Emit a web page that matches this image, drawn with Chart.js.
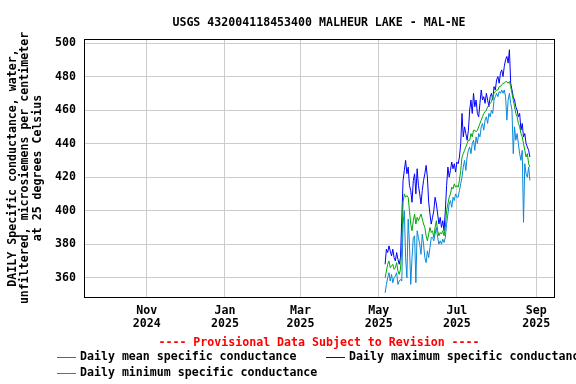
<!DOCTYPE html>
<html>
<head>
<meta charset="utf-8">
<script src="https://cdn.jsdelivr.net/npm/chart.js@4/dist/chart.umd.min.js"></script>
<style>
  html, body { margin: 0; padding: 0; background: #fff; }
  #wrap { width: 576px; height: 384px; }
</style>
</head>
<body>
<div id="wrap"><canvas id="scChart" width="576" height="384"></canvas></div>
<script>
/*
 * Daily specific conductance, Malheur Lake (MAL-NE), USGS style plot.
 * x axis is days since 2024-11-01 on a linear scale (no date adapter needed).
 */
var FONT = '"DejaVu Sans Mono", "Liberation Mono", monospace';

var TITLE = 'USGS 432004118453400 MALHEUR LAKE - MAL-NE';
var Y_TITLE = [
  'DAILY Specific conductance, water,',
  'unfiltered, microsiemens per centimeter',
  'at 25 degrees Celsius'
];
var PROVISIONAL_NOTE = '---- Provisional Data Subject to Revision ----';

var ORIGIN_DATE = '2024-11-01';
var FIRST_DATE = '2025-05-06';   // first daily value, one value per day after that

// x window (days from ORIGIN_DATE) and month ticks
var X_MIN = -49;
var X_MAX = 317.8;
var xTickDays = [0, 61, 120, 181, 242, 304];
var xTickLabels = [['Nov', '2024'], ['Jan', '2025'], ['Mar', '2025'],
                   ['May', '2025'], ['Jul', '2025'], ['Sep', '2025']];

var Y_MIN = 348.5;
var Y_MAX = 502.4;
var yTicks = [360, 380, 400, 420, 440, 460, 480, 500];

var seriesNames = ['Daily mean specific conductance',
                   'Daily maximum specific conductance',
                   'Daily minimum specific conductance'];
var seriesColors = ['#00a800', '#0000ff', '#0a88d8'];

var dailyMax = [
  368, 377, 375, 379, 376, 373, 377, 372, 370, 375, 371, 368, 372,
  395, 418, 424, 430, 422, 426, 415, 412, 405, 418, 422, 410, 425, 415, 410, 404, 412,
  418, 422, 427, 420, 405, 398, 392, 396, 400, 408, 404, 398, 392, 396, 390, 394, 388,
  400, 415, 426, 420, 424, 429, 425, 428, 423, 429,
  428, 432, 440, 458, 444, 450, 446, 442, 448, 460, 466, 458, 470, 462, 466, 458, 456,
  464, 472, 466, 468, 464, 470, 466, 462, 468, 470, 466, 474,
  472, 478, 480, 476, 482, 484, 480, 486, 490, 492, 488, 496, 476, 472, 468, 466, 462,
  460, 456, 458, 448, 452, 444, 446, 440, 438, 436, 432
];

var dailyMean = [
  360, 364, 368, 370, 366, 367, 368, 365, 366, 369, 364, 362, 365,
  378, 405, 410, 408, 409, 408, 400, 392, 388, 394, 398, 392, 396, 394, 396, 398, 395,
  392, 390, 385, 382, 386, 390, 387, 388, 384, 390, 394, 388, 385, 387, 386, 388, 385,
  390, 400, 404, 408, 410, 414, 413, 416, 414, 415,
  414, 418, 424, 432, 434, 436, 438, 440, 442, 442, 446, 444, 448, 448, 447, 448, 450,
  452, 454, 456, 458, 459, 460, 462, 463, 464, 465, 468, 470,
  471, 472, 472, 474, 474, 475, 476, 476, 477, 477, 476, 477, 474, 470, 466, 462, 458,
  456, 452, 450, 446, 444, 440, 436, 432, 434, 428, 426
];

var dailyMin = [
  351, 356, 360, 363, 358, 362, 357, 360, 361, 363, 356, 358, 359,
  358, 392, 400, 372, 360, 395, 380, 356, 372, 384, 385, 357, 388, 384, 380, 374, 386,
  380, 372, 369, 376, 372, 378, 384, 384, 382, 386, 390, 384, 380, 382, 380, 383, 381,
  384, 392, 398, 404, 406, 402, 408, 406, 410, 408,
  408, 412, 416, 420, 426, 430, 424, 432, 436, 438, 434, 440, 442, 436, 444, 440, 446,
  444, 450, 452, 448, 454, 456, 452, 458, 456, 460, 458, 466,
  468, 470, 468, 471, 470, 472, 470, 472, 468, 454, 466, 470, 464, 460, 434, 450, 442,
  446, 440, 434, 430, 436, 393, 428, 422, 420, 426, 418
];

function daysBetween(a, b) {
  return Math.round((Date.parse(b) - Date.parse(a)) / 86400000);
}

function toPoints(values) {
  var start = daysBetween(ORIGIN_DATE, FIRST_DATE);
  return values.map(function (v, i) { return { x: start + i, y: v }; });
}

function line(label, values, color, order) {
  return {
    label: label,
    data: toPoints(values),
    borderColor: color,
    backgroundColor: color,
    borderWidth: 1,
    pointRadius: 0,
    tension: 0,
    fill: false,
    order: order
  };
}

/* title over the plot centre, black box, provisional note and legend */
var notesPlugin = {
  id: 'frameAndNotes',
  afterDraw: function (chart) {
    var ctx = chart.ctx;
    var a = chart.chartArea;
    var cx = (a.left + a.right) / 2;
    ctx.save();
    ctx.strokeStyle = '#000';
    ctx.lineWidth = 1;
    ctx.strokeRect(Math.round(a.left) + 0.5, Math.round(a.top) + 0.5,
                   Math.round(a.right - a.left), Math.round(a.bottom - a.top));

    ctx.font = 'bold 11.6px ' + FONT;
    ctx.textBaseline = 'middle';
    ctx.textAlign = 'center';
    ctx.fillStyle = '#000';
    ctx.fillText(TITLE, cx, a.top - 16);

    ctx.fillStyle = '#ff0000';
    ctx.fillText(PROVISIONAL_NOTE, cx, a.bottom + 46);

    // legend: mean | max on the first row, min on the second
    var slots = [[57, a.bottom + 60], [326, a.bottom + 60], [57, a.bottom + 76]];
    ctx.textAlign = 'left';
    seriesNames.forEach(function (name, i) {
      var x = slots[i][0], y = Math.round(slots[i][1]);
      ctx.fillStyle = seriesColors[i];
      ctx.fillRect(x, y, 19, 1);
      ctx.fillStyle = '#000';
      ctx.fillText(name, x + 23, y);
    });
    ctx.restore();
  }
};

var tickFont = { family: FONT, size: 11.6, weight: 'bold', lineHeight: '13px' };

new Chart(document.getElementById('scChart').getContext('2d'), {
  type: 'line',
  data: {
    datasets: [
      line(seriesNames[0], dailyMean, seriesColors[0], 1),
      line(seriesNames[1], dailyMax, seriesColors[1], 2),
      line(seriesNames[2], dailyMin, seriesColors[2], 0)
    ]
  },
  options: {
    responsive: false,
    animation: false,
    devicePixelRatio: 1,
    layout: { padding: { left: 0, right: 22, top: 39, bottom: 0 } },
    plugins: {
      legend: { display: false },
      tooltip: { enabled: false },
      title: { display: false }
    },
    scales: {
      x: {
        type: 'linear',
        min: X_MIN,
        max: X_MAX,
        afterBuildTicks: function (scale) {
          scale.ticks = xTickDays.map(function (d) { return { value: d }; });
        },
        afterFit: function (scale) { scale.height = 87; },
        ticks: {
          autoSkip: false,
          maxRotation: 0,
          padding: 7,
          color: '#000',
          font: tickFont,
          callback: function (v) {
            var i = xTickDays.indexOf(v);
            return i >= 0 ? xTickLabels[i] : '';
          }
        },
        grid: { color: '#cccccc', drawTicks: false },
        border: { display: false }
      },
      y: {
        min: Y_MIN,
        max: Y_MAX,
        afterBuildTicks: function (scale) {
          scale.ticks = yTicks.map(function (v) { return { value: v }; });
        },
        afterFit: function (scale) { scale.width = 84; },
        ticks: { padding: 8, color: '#000', font: tickFont },
        grid: { color: '#cccccc', drawTicks: false },
        border: { display: false },
        title: {
          display: true,
          text: Y_TITLE,
          color: '#000',
          font: { family: FONT, size: 11.6, weight: 'bold', lineHeight: '12.3px' },
          padding: { top: 7, bottom: 0 }
        }
      }
    }
  },
  plugins: [notesPlugin]
});
</script>
</body>
</html>
